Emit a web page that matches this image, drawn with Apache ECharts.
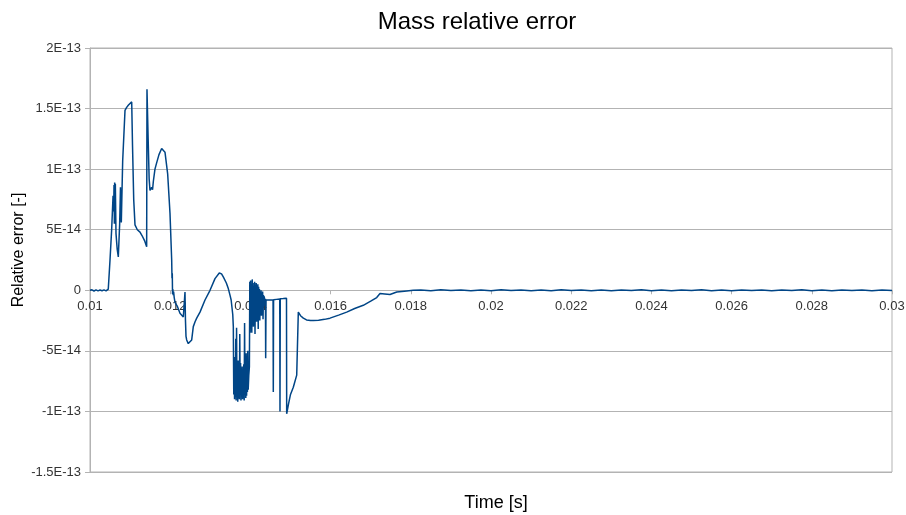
<!DOCTYPE html>
<html>
<head>
<meta charset="utf-8">
<title>Mass relative error</title>
<script src="https://cdn.jsdelivr.net/npm/echarts@6/dist/echarts.min.js"></script>
<style>
  html, body { margin: 0; padding: 0; background: #ffffff; }
  #chart { width: 906px; height: 515px; }
</style>
</head>
<body>
<div id="chart"></div>
<script>
// Simulation time [s]
const times = [
  0.0100, 0.01005, 0.0101, 0.01015, 0.0102, 0.01025, 0.0103, 0.01035, 0.0104, 0.010456,
  0.010499, 0.010540, 0.010575, 0.010590, 0.010599, 0.010608, 0.010615, 0.010623, 0.010632, 0.010648,
  0.010678, 0.010706, 0.010740, 0.010760, 0.010770, 0.010781, 0.010815, 0.010873, 0.010914, 0.010960,
  0.011000, 0.011040, 0.011060, 0.011090, 0.011122, 0.011180, 0.011247, 0.011300, 0.011360, 0.011413,
  0.011421, 0.011450, 0.011475, 0.011496, 0.011515, 0.011538, 0.011560, 0.011580, 0.011620, 0.011660,
  0.011720, 0.011787, 0.011830, 0.011870, 0.011937, 0.011995, 0.012037, 0.012045, 0.012052, 0.012058,
  0.012065, 0.012075, 0.012085, 0.012100, 0.012120, 0.012150, 0.012175, 0.012202, 0.012244, 0.012290,
  0.012327, 0.012360, 0.012369, 0.012380, 0.012394, 0.012411, 0.012451, 0.012500, 0.012536, 0.012576,
  0.012620, 0.012661, 0.012743, 0.012868, 0.012993, 0.013117, 0.013224, 0.013280, 0.013324, 0.013400,
  0.013449, 0.013491, 0.013520, 0.013560,
  // oscillating band, deep negative
  0.013574, 0.013585, 0.013595, 0.013605, 0.013615, 0.013625, 0.013635, 0.013645, 0.013655, 0.013665,
  0.013675, 0.013685, 0.013695, 0.013705, 0.013715, 0.013725, 0.013735, 0.013745, 0.013755, 0.013765,
  0.013775, 0.013785, 0.013795, 0.013805, 0.013815, 0.013825, 0.013835, 0.013845, 0.013855, 0.013865,
  0.013875, 0.013885, 0.013895, 0.013905, 0.013915, 0.013925, 0.013935, 0.013945, 0.013960, 0.013975,
  0.013985, 0.013995,
  // oscillating band near zero
  0.014005, 0.014015, 0.014025, 0.014035, 0.014045, 0.014055, 0.014065, 0.014075, 0.014085, 0.014095,
  0.014105, 0.014115, 0.014125, 0.014135, 0.014145, 0.014155, 0.014165, 0.014175, 0.014185, 0.014195,
  0.014205, 0.014215, 0.014225, 0.014235, 0.014245, 0.014255, 0.014265, 0.014275, 0.014285, 0.014295,
  0.014305, 0.014315, 0.014325, 0.014335, 0.014345, 0.014360, 0.014375, 0.014381, 0.014390,
  // plateau with isolated drops, then recovery
  0.014406, 0.014500, 0.014565, 0.014571, 0.014578, 0.014650, 0.014732, 0.014738, 0.014745, 0.014820,
  0.014900, 0.014905, 0.014950, 0.015000, 0.015070, 0.015155, 0.015190, 0.015195, 0.015250, 0.015320,
  0.015400, 0.015500, 0.015569, 0.015700, 0.015850, 0.015985, 0.016200, 0.016401, 0.016600, 0.016815,
  0.017000, 0.017150, 0.017190, 0.017232, 0.017350, 0.017481, 0.017650, 0.017900, 0.018060,
  // settled
  0.01825, 0.0185, 0.01875, 0.0190, 0.01925, 0.0195, 0.01975, 0.0200, 0.02025, 0.0205,
  0.02075, 0.0210, 0.02125, 0.0215, 0.02175, 0.0220, 0.02225, 0.0225, 0.02275, 0.0230,
  0.02325, 0.0235, 0.02375, 0.0240, 0.02425, 0.0245, 0.02475, 0.0250, 0.02525, 0.0255,
  0.02575, 0.0260, 0.02625, 0.0265, 0.02675, 0.0270, 0.02725, 0.0275, 0.02775, 0.0280,
  0.02825, 0.0285, 0.02875, 0.0290, 0.02925, 0.0295, 0.02975, 0.0300
];

// Mass relative error, in units of 1E-14
const relErrorE14 = [
  0, 0.04, -0.06, 0.03, -0.05, 0.02, -0.04, 0.03, -0.05, 0.1,
  2.5, 5.0, 7.8, 6.5, 8.7, 5.5, 8.9, 7.0, 8.8, 4.7,
  3.4, 2.75, 5.5, 8.5, 6.2, 5.6, 10.7, 14.85, 15.1, 15.3,
  15.4, 15.55, 12.0, 7.5, 5.4, 5.0, 4.8, 4.5, 4.1, 3.6,
  16.6, 12.5, 9.2, 8.25, 8.3, 8.5, 8.3, 9.0, 10.0, 10.5,
  11.2, 11.7, 11.6, 11.4, 9.6, 6.35, 2.5, 1.0, 1.4, -0.3,
  0.1, -0.4, -0.1, -0.6, -1.0, -1.1, -1.3, -1.4, -1.9, -2.0,
  -2.2, -2.3, -0.15, -2.4, -3.8, -4.1, -4.4, -4.3, -4.1, -3.0,
  -2.6, -2.3, -1.8, -0.8, 0.0, 0.96, 1.43, 1.35, 1.1, 0.6,
  0.14, -0.4, -0.8, -2.0,
  -3.0, -8.6, -5.5, -9.0, -6.2, -8.8, -4.0, -9.1, -3.1, -8.7,
  -6.5, -9.2, -5.8, -8.9, -6.8, -9.0, -3.6, -8.5, -6.0, -9.1,
  -7.0, -8.8, -6.3, -9.0, -7.4, -8.9, -6.1, -9.1, -2.7, -8.6,
  -6.6, -8.9, -5.2, -8.7, -6.4, -8.4, -5.0, -8.2, -7.0, -6.3,
  0.7, -3.5,
  0.8, -2.8, 0.5, -3.5, 0.9, -1.5, 0.6, -3.0, 0.3, -2.2,
  0.7, -3.6, 0.4, -1.8, 0.6, -2.6, 0.2, -1.2, 0.5, -3.2,
  0.3, -1.9, 0.1, -2.5, -0.2, -1.4, 0.0, -2.1, -0.3, -1.5,
  -0.1, -2.4, -0.4, -1.3, -0.5, -1.0, -0.7, -5.6, -0.8,
  -0.85, -0.8, -0.8, -8.4, -0.78, -0.75, -0.72, -10.0, -0.7, -0.68,
  -0.65, -10.2, -9.4, -8.6, -8.0, -7.0, -6.9, -1.8, -2.1, -2.3,
  -2.45, -2.5, -2.5, -2.48, -2.4, -2.3, -2.05, -1.8, -1.5, -1.24,
  -0.9, -0.6, -0.5, -0.27, -0.3, -0.35, -0.14, -0.05, 0,
  0.03, -0.03, 0.04, -0.02, 0.03, -0.04, 0.02, -0.03, 0.04, -0.02,
  0.03, -0.04, 0.02, -0.03, 0.04, -0.02, 0.02, -0.03, 0.03, -0.04,
  0.03, -0.02, 0.04, -0.03, 0.02, -0.03, 0.03, -0.02, 0.04, -0.03,
  0.02, -0.04, 0.03, -0.02, 0.03, -0.04, 0.02, -0.02, 0.04, -0.03,
  0.03, -0.03, 0.02, -0.02, 0.03, -0.03, 0.02, -0.01
];

// Axis tick labels
const xTickLabels = ['0.01', '0.012', '0.014', '0.016', '0.018', '0.02', '0.022', '0.024', '0.026', '0.028', '0.03'];
const yTickLabels = ['-1.5E-13', '-1E-13', '-5E-14', '0', '5E-14', '1E-13', '1.5E-13', '2E-13'];

const X_MIN = 0.01, X_MAX = 0.03, X_STEP = 0.002;
const Y_MIN = -15, Y_MAX = 20, Y_STEP = 5;

// Plot area placement (px)
const GRID = { left: 90, right: 14, top: 48, bottom: 43 };
const CHART_H = 515;
const plotH = CHART_H - GRID.top - GRID.bottom;
// The time axis is drawn through y = 0: shift it up from the plot bottom by the zero's distance
const zeroFromBottom = plotH * (0 - Y_MIN) / (Y_MAX - Y_MIN);

const chart = echarts.init(document.getElementById('chart'), null, { renderer: 'canvas' });

const gridColor = '#b3b3b3';
const labelColor = '#333333';
const fontFamily = '"Liberation Sans", Arial, sans-serif';

chart.setOption({
  animation: false,
  backgroundColor: '#ffffff',
  textStyle: { fontFamily: fontFamily },
  title: [
    {
      text: 'Mass relative error',
      left: 472,
      top: 5,
      textAlign: 'center',
      textStyle: { fontFamily: fontFamily, fontSize: 24, fontWeight: 'normal', color: '#000000' }
    },
    {
      text: 'Time [s]',
      left: 491,
      top: 489,
      textAlign: 'center',
      textStyle: { fontFamily: fontFamily, fontSize: 18, fontWeight: 'normal', color: '#000000' }
    }
  ],
  graphic: [
    {
      type: 'text',
      x: 19,
      y: 250,
      rotation: Math.PI / 2,
      style: {
        text: 'Relative error [-]',
        fontFamily: fontFamily,
        fontSize: 16,
        fill: '#000000',
        align: 'center',
        verticalAlign: 'middle'
      }
    }
  ],
  grid: {
    left: GRID.left,
    right: GRID.right,
    top: GRID.top,
    bottom: GRID.bottom,
    outerBoundsMode: 'none',
    containLabel: false,
    show: true,
    borderColor: gridColor,
    borderWidth: 1,
    backgroundColor: 'transparent'
  },
  xAxis: {
    type: 'value',
    min: X_MIN,
    max: X_MAX,
    interval: X_STEP,
    position: 'bottom',
    offset: -zeroFromBottom,
    axisLine: { show: true, onZero: false, lineStyle: { color: gridColor, width: 1 } },
    axisTick: { show: true, inside: false, length: 4, lineStyle: { color: gridColor } },
    splitLine: { show: false },
    axisLabel: {
      color: labelColor,
      fontSize: 13,
      fontFamily: fontFamily,
      margin: 10,
      formatter: function (v) {
        return xTickLabels[Math.round((v - X_MIN) / X_STEP)];
      }
    }
  },
  yAxis: {
    type: 'value',
    min: Y_MIN,
    max: Y_MAX,
    interval: Y_STEP,
    axisLine: { show: true, onZero: false, lineStyle: { color: gridColor, width: 1 } },
    axisTick: { show: true, inside: false, length: 5, lineStyle: { color: gridColor } },
    splitLine: { show: true, lineStyle: { color: gridColor, width: 1 } },
    axisLabel: {
      color: labelColor,
      fontSize: 13,
      fontFamily: fontFamily,
      margin: 9,
      formatter: function (v) {
        return yTickLabels[Math.round((v - Y_MIN) / Y_STEP)];
      }
    }
  },
  series: [
    {
      type: 'line',
      data: times.map(function (t, i) { return [t, relErrorE14[i]]; }),
      showSymbol: false,
      symbol: 'none',
      sampling: null,
      lineStyle: { color: '#004586', width: 1.5 },
      itemStyle: { color: '#004586' },
      z: 3
    }
  ]
});
</script>
</body>
</html>
